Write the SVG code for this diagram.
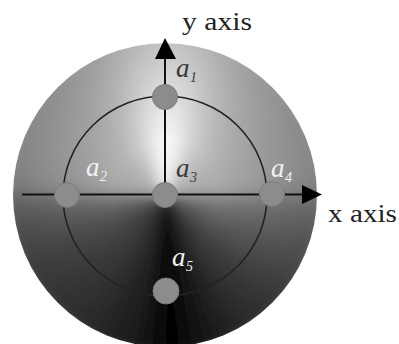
<svg xmlns="http://www.w3.org/2000/svg" width="399" height="344" viewBox="0 0 399 344">
<defs>
<style>
.w{fill:currentColor;stroke:currentColor;stroke-width:1}
.node{fill:#8c8c8c;stroke:#7a7a7a;stroke-width:1}
.ax{stroke:#111;stroke-width:2;fill:none}
.lab{font-family:"Liberation Serif","Times New Roman",serif;font-size:25px;fill:#222}
.a{font-family:"Liberation Serif","Times New Roman",serif;font-style:italic;font-size:27px}
.s{font-family:"Liberation Serif","Times New Roman",serif;font-style:italic;font-size:14px}
.dk{fill:#3a3a3a}
.lt{fill:#f2f2f2}
</style>
<clipPath id="disc"><circle cx="165" cy="195" r="152"/></clipPath>
<filter id="bl" filterUnits="userSpaceOnUse" x="0" y="20" width="340" height="350"><feGaussianBlur stdDeviation="6"/></filter>
<radialGradient id="vig" gradientUnits="userSpaceOnUse" cx="165" cy="195" r="152">
<stop offset="0" stop-color="#000" stop-opacity="0"/>
<stop offset="0.35" stop-color="#000" stop-opacity="0"/>
<stop offset="1" stop-color="#000" stop-opacity="0.22"/>
</radialGradient>
</defs>
<rect width="399" height="344" fill="#fff"/>
<g id="disc-bg" clip-path="url(#disc)">
<g filter="url(#bl)">
<path class="w" color="#fbfbfb" d="M165 195L165 35L178.9 35.6Z"/>
<path class="w" color="#f6f6f6" d="M165 195L178.9 35.6L192.8 37.4Z"/>
<path class="w" color="#efefef" d="M165 195L192.8 37.4L206.4 40.5Z"/>
<path class="w" color="#e6e6e6" d="M165 195L206.4 40.5L219.7 44.6Z"/>
<path class="w" color="#dcdcdc" d="M165 195L219.7 44.6L232.6 50Z"/>
<path class="w" color="#d3d3d3" d="M165 195L232.6 50L245 56.4Z"/>
<path class="w" color="#cccccc" d="M165 195L245 56.4L256.8 63.9Z"/>
<path class="w" color="#c5c5c5" d="M165 195L256.8 63.9L267.8 72.4Z"/>
<path class="w" color="#c0c0c0" d="M165 195L267.8 72.4L278.1 81.9Z"/>
<path class="w" color="#bbbbbb" d="M165 195L278.1 81.9L287.6 92.2Z"/>
<path class="w" color="#b8b8b8" d="M165 195L287.6 92.2L296.1 103.2Z"/>
<path class="w" color="#b4b4b4" d="M165 195L296.1 103.2L303.6 115Z"/>
<path class="w" color="#b1b1b1" d="M165 195L303.6 115L310 127.4Z"/>
<path class="w" color="#afafaf" d="M165 195L310 127.4L315.4 140.3Z"/>
<path class="w" color="#adadad" d="M165 195L315.4 140.3L319.5 153.6Z"/>
<path class="w" color="#ababab" d="M165 195L319.5 153.6L322.6 167.2Z"/>
<path class="w" color="#a8a8a8" d="M165 195L322.6 167.2L324.4 181.1Z"/>
<path class="w" color="#a0a0a0" d="M165 195L324.4 181.1L325 195Z"/>
<path class="w" color="#8c8c8c" d="M165 195L325 195L324.4 208.9Z"/>
<path class="w" color="#7d7d7d" d="M165 195L324.4 208.9L322.6 222.8Z"/>
<path class="w" color="#737373" d="M165 195L322.6 222.8L319.5 236.4Z"/>
<path class="w" color="#6a6a6a" d="M165 195L319.5 236.4L315.4 249.7Z"/>
<path class="w" color="#636363" d="M165 195L315.4 249.7L310 262.6Z"/>
<path class="w" color="#5b5b5b" d="M165 195L310 262.6L303.6 275Z"/>
<path class="w" color="#545454" d="M165 195L303.6 275L296.1 286.8Z"/>
<path class="w" color="#4d4d4d" d="M165 195L296.1 286.8L287.6 297.8Z"/>
<path class="w" color="#474747" d="M165 195L287.6 297.8L278.1 308.1Z"/>
<path class="w" color="#414141" d="M165 195L278.1 308.1L267.8 317.6Z"/>
<path class="w" color="#3a3a3a" d="M165 195L267.8 317.6L256.8 326.1Z"/>
<path class="w" color="#343434" d="M165 195L256.8 326.1L245 333.6Z"/>
<path class="w" color="#2d2d2d" d="M165 195L245 333.6L232.6 340Z"/>
<path class="w" color="#262626" d="M165 195L232.6 340L219.7 345.4Z"/>
<path class="w" color="#1f1f1f" d="M165 195L219.7 345.4L206.4 349.5Z"/>
<path class="w" color="#171717" d="M165 195L206.4 349.5L192.8 352.6Z"/>
<path class="w" color="#0d0d0d" d="M165 195L192.8 352.6L178.9 354.4Z"/>
<path class="w" color="#040404" d="M165 195L178.9 354.4L165 355Z"/>
<path class="w" color="#0c0c0c" d="M165 195L165 355L151.1 354.4Z"/>
<path class="w" color="#181818" d="M165 195L151.1 354.4L137.2 352.6Z"/>
<path class="w" color="#202020" d="M165 195L137.2 352.6L123.6 349.5Z"/>
<path class="w" color="#272727" d="M165 195L123.6 349.5L110.3 345.4Z"/>
<path class="w" color="#2c2c2c" d="M165 195L110.3 345.4L97.4 340Z"/>
<path class="w" color="#313131" d="M165 195L97.4 340L85 333.6Z"/>
<path class="w" color="#363636" d="M165 195L85 333.6L73.2 326.1Z"/>
<path class="w" color="#3a3a3a" d="M165 195L73.2 326.1L62.2 317.6Z"/>
<path class="w" color="#3d3d3d" d="M165 195L62.2 317.6L51.9 308.1Z"/>
<path class="w" color="#414141" d="M165 195L51.9 308.1L42.4 297.8Z"/>
<path class="w" color="#454545" d="M165 195L42.4 297.8L33.9 286.8Z"/>
<path class="w" color="#494949" d="M165 195L33.9 286.8L26.4 275Z"/>
<path class="w" color="#4e4e4e" d="M165 195L26.4 275L20 262.6Z"/>
<path class="w" color="#555555" d="M165 195L20 262.6L14.6 249.7Z"/>
<path class="w" color="#5c5c5c" d="M165 195L14.6 249.7L10.5 236.4Z"/>
<path class="w" color="#646464" d="M165 195L10.5 236.4L7.4 222.8Z"/>
<path class="w" color="#6e6e6e" d="M165 195L7.4 222.8L5.6 208.9Z"/>
<path class="w" color="#7d7d7d" d="M165 195L5.6 208.9L5 195Z"/>
<path class="w" color="#969696" d="M165 195L5 195L5.6 181.1Z"/>
<path class="w" color="#a2a2a2" d="M165 195L5.6 181.1L7.4 167.2Z"/>
<path class="w" color="#a6a6a6" d="M165 195L7.4 167.2L10.5 153.6Z"/>
<path class="w" color="#a9a9a9" d="M165 195L10.5 153.6L14.6 140.3Z"/>
<path class="w" color="#ababab" d="M165 195L14.6 140.3L20 127.4Z"/>
<path class="w" color="#adadad" d="M165 195L20 127.4L26.4 115Z"/>
<path class="w" color="#afafaf" d="M165 195L26.4 115L33.9 103.2Z"/>
<path class="w" color="#b2b2b2" d="M165 195L33.9 103.2L42.4 92.2Z"/>
<path class="w" color="#b5b5b5" d="M165 195L42.4 92.2L51.9 81.9Z"/>
<path class="w" color="#b9b9b9" d="M165 195L51.9 81.9L62.2 72.4Z"/>
<path class="w" color="#bebebe" d="M165 195L62.2 72.4L73.2 63.9Z"/>
<path class="w" color="#c4c4c4" d="M165 195L73.2 63.9L85 56.4Z"/>
<path class="w" color="#cbcbcb" d="M165 195L85 56.4L97.4 50Z"/>
<path class="w" color="#d4d4d4" d="M165 195L97.4 50L110.3 44.6Z"/>
<path class="w" color="#dedede" d="M165 195L110.3 44.6L123.6 40.5Z"/>
<path class="w" color="#e8e8e8" d="M165 195L123.6 40.5L137.2 37.4Z"/>
<path class="w" color="#f1f1f1" d="M165 195L137.2 37.4L151.1 35.6Z"/>
<path class="w" color="#f8f8f8" d="M165 195L151.1 35.6L165 35Z"/>
</g>
<circle cx="165" cy="195" r="152" fill="url(#vig)"/>
</g>
<ellipse id="orbit" cx="165" cy="196" rx="102" ry="100" fill="none" stroke="#222" stroke-width="1.6"/>
<g id="connectors">
<line class="ax" x1="22" y1="194.5" x2="305" y2="194.5"/>
<polygon points="302,185 322,194.5 302,204" fill="#000"/>
<line class="ax" x1="165" y1="195" x2="165" y2="56"/>
<polygon points="165,38 155,59 176,59" fill="#000"/>
</g>
<g id="a1"><circle class="node" cx="165" cy="97" r="12.5"/><text class="a dk" x="176" y="77">a</text><text class="s dk" x="190" y="82">1</text></g>
<g id="a2"><circle class="node" cx="67" cy="195" r="12.5"/><text class="a lt" x="86" y="176">a</text><text class="s lt" x="100" y="181">2</text></g>
<g id="a3"><circle class="node" cx="165" cy="195" r="12.5"/><text class="a dk" x="176" y="177">a</text><text class="s dk" x="190" y="182">3</text></g>
<g id="a4"><circle class="node" cx="272" cy="194" r="12.5"/><text class="a lt" x="271" y="177">a</text><text class="s lt" x="285" y="182">4</text></g>
<g id="a5"><circle class="node" cx="166" cy="291" r="13"/><text class="a lt" x="172" y="266">a</text><text class="s lt" x="186" y="271">5</text></g>
<text class="lab" x="182" y="30" textLength="70" lengthAdjust="spacingAndGlyphs">y axis</text>
<text class="lab" x="328" y="222" textLength="69" lengthAdjust="spacingAndGlyphs">x axis</text>
</svg>
